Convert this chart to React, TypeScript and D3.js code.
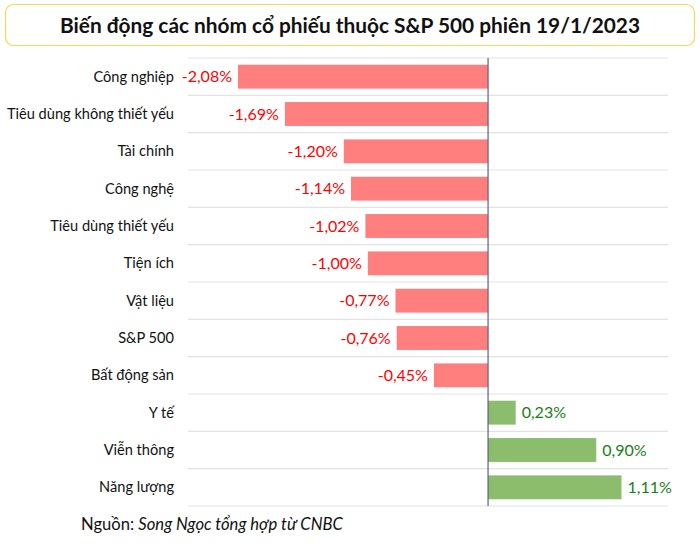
import React from "react";
import * as d3 from "d3";

const categories = [
  "Công nghiệp",
  "Tiêu dùng không thiết yếu",
  "Tài chính",
  "Công nghệ",
  "Tiêu dùng thiết yếu",
  "Tiện ích",
  "Vật liệu",
  "S&P 500",
  "Bất động sản",
  "Y tế",
  "Viễn thông",
  "Năng lượng",
];
const values = [-2.08, -1.69, -1.2, -1.14, -1.02, -1.0, -0.77, -0.76, -0.45, 0.23, 0.9, 1.11];

const title = "Biến động các nhóm cổ phiếu thuộc S&P 500 phiên 19/1/2023";
const sourceLabel = "Nguồn: ";
const sourceText = "Song Ngọc tổng hợp từ CNBC";

const W = 700;
const H = 546;
const plotLeft = 188;
const plotRight = 668;
const plotTop = 58;
const plotBottom = 506;

export default function App() {
  const x = d3.scaleLinear().domain([-2.08, 1.11]).range([238, 621.5]);
  const y = d3
    .scaleBand<string>()
    .domain(categories)
    .range([plotTop, plotBottom])
    .paddingInner(0.36)
    .paddingOuter(0.18);
  const step = y.step();
  const fmt = (v: number) => (v > 0 ? "" : "-") + Math.abs(v).toFixed(2).replace(".", ",") + "%";
  const font = "Lato, 'Open Sans', sans-serif";
  const gridYs = d3.range(categories.length + 1).map((i) => plotTop + i * step);

  return (
    <svg width={W} height={H} style={{ position: "absolute", left: 0, top: 0 }} fontFamily={font}>
      <rect x={0} y={0} width={W} height={H} fill="#fff" />
      <rect x={5.5} y={4.5} width={689} height={41} rx={8} fill="#fff" stroke="#f7d65a" strokeWidth={1.2} />
      <text x={350} y={33} textAnchor="middle" fontSize={21} fontWeight={700} fill="#111" textLength={580} lengthAdjust="spacingAndGlyphs">
        {title}
      </text>
      {gridYs.map((gy, i) => (
        <line key={i} x1={plotLeft} x2={plotRight} y1={gy} y2={gy} stroke="#e3e3e3" strokeWidth={1.2} />
      ))}
      {categories.map((c, i) => {
        const v = values[i];
        const y0 = y(c)!;
        const bw = y.bandwidth();
        const x0 = x(Math.min(0, v));
        const x1 = x(Math.max(0, v));
        const cy = y0 + bw / 2;
        const neg = v < 0;
        return (
          <g key={c}>
            <text x={174} y={cy} dy="0.35em" textAnchor="end" fontSize={14.6} fill="#111">
              {c}
            </text>
            <rect x={x0} y={y0} width={x1 - x0} height={bw} fill={neg ? "#ff7f7f" : "#8cbd6c"} />
            <text
              x={neg ? x0 - 6 : x1 + 6}
              y={cy}
              dy="0.35em"
              textAnchor={neg ? "end" : "start"}
              fontSize={16}
              fill={neg ? "#ff0000" : "#157f15"}
            >
              {fmt(v)}
            </text>
          </g>
        );
      })}
      <line x1={x(0)} x2={x(0)} y1={plotTop} y2={plotBottom} stroke="#5b6378" strokeWidth={1.2} />
      <text x={81} y={530} fontSize={16.6} fill="#111">
        <tspan>{sourceLabel}</tspan>
        <tspan fontStyle="italic">{sourceText}</tspan>
      </text>
    </svg>
  );
}
